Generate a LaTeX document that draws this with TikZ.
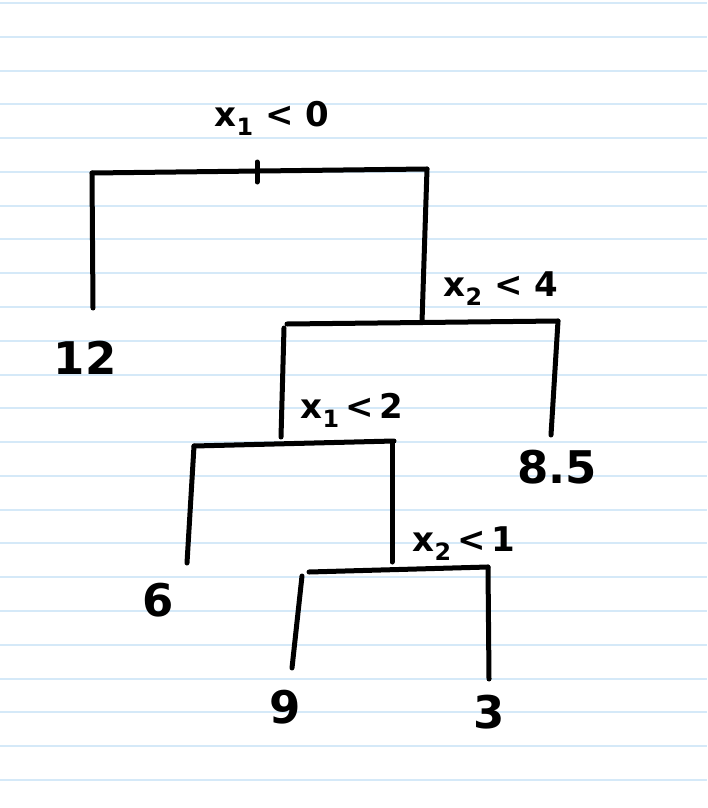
\documentclass[tikz,border=0pt]{standalone}
\usepackage{fontspec}
\setmainfont{DejaVu Sans}
\usetikzlibrary{positioning}
\definecolor{ruling}{HTML}{D5E9F8}
\tikzset{
  paperline/.style={draw=ruling,line width=2pt},
  branch/.style={draw=black,line width=5pt,line cap=round,line join=round},
  splitlabel/.style={font=\fontsize{34}{34}\selectfont\bfseries,inner sep=0pt},
  leaf/.style={font=\fontsize{45}{45}\selectfont\bfseries,inner sep=0pt}
}

\begin{document}
\begin{tikzpicture}[x=1pt,y=-1pt]
  \useasboundingbox (0,0) rectangle (707,808);
  \fill[white] (0,0) rectangle (707,808);
  % ruled paper
  \foreach \k in {0,...,23}{\draw[paperline] (0,{3+33.78*\k}) -- (707,{3+33.78*\k});}

  % split labels
  \node[splitlabel] (s1) at (272,118) {x\textsubscript{1} < 0};
  \node[splitlabel] (s2) at (501,289) {x\textsubscript{2} < 4};
  \node[splitlabel] (s3) at (352,410) {x\textsubscript{1}\,<\,2};
  \node[splitlabel] (s4) at (464,544) {x\textsubscript{2}\,<\,1};

  % leaves
  \node[leaf] (l12) at (85,358) {12};
  \node[leaf] (l85) at (557,467) {8.5};
  \node[leaf] (l6) at (158,600) {6};
  \node[leaf] (l9) at (285,707) {9};
  \node[leaf] (l3) at (489,712) {3};

  % bar ends and leg ends
  \coordinate (a0) at (92,173);  \coordinate (a1) at (427,169);
  \coordinate (t0) at (257,162); \coordinate (t1) at (257,182);
  \coordinate (e12) at (93,308);
  \coordinate (b0) at (287,324); \coordinate (b1) at (558,321);
  \coordinate (bj) at (422,322);
  \coordinate (bl) at (284,328); \coordinate (e85) at (551,435);
  \coordinate (c0) at (194,446); \coordinate (c1) at (394,441);
  \coordinate (cj) at (281,437);
  \coordinate (cr) at (392,443); \coordinate (e6) at (187,563);
  \coordinate (dj) at (392,562);
  \coordinate (d0) at (309,572); \coordinate (d1) at (488,567);
  \coordinate (dl) at (302,576); \coordinate (e9) at (292,668);
  \coordinate (e3) at (489,679);

  % tree
  \draw[branch] (a0) -- (a1);
  \draw[branch] (t0) -- (t1);
  \draw[branch] (a0) -- (e12);
  \draw[branch] (a1) -- (bj);
  \draw[branch] (b0) -- (b1);
  \draw[branch] (bl) -- (cj);
  \draw[branch] (b1) -- (e85);
  \draw[branch] (c0) -- (c1);
  \draw[branch] (c0) -- (e6);
  \draw[branch] (cr) -- (dj);
  \draw[branch] (d0) -- (d1);
  \draw[branch] (dl) -- (e9);
  \draw[branch] (d1) -- (e3);
\end{tikzpicture}
\end{document}
